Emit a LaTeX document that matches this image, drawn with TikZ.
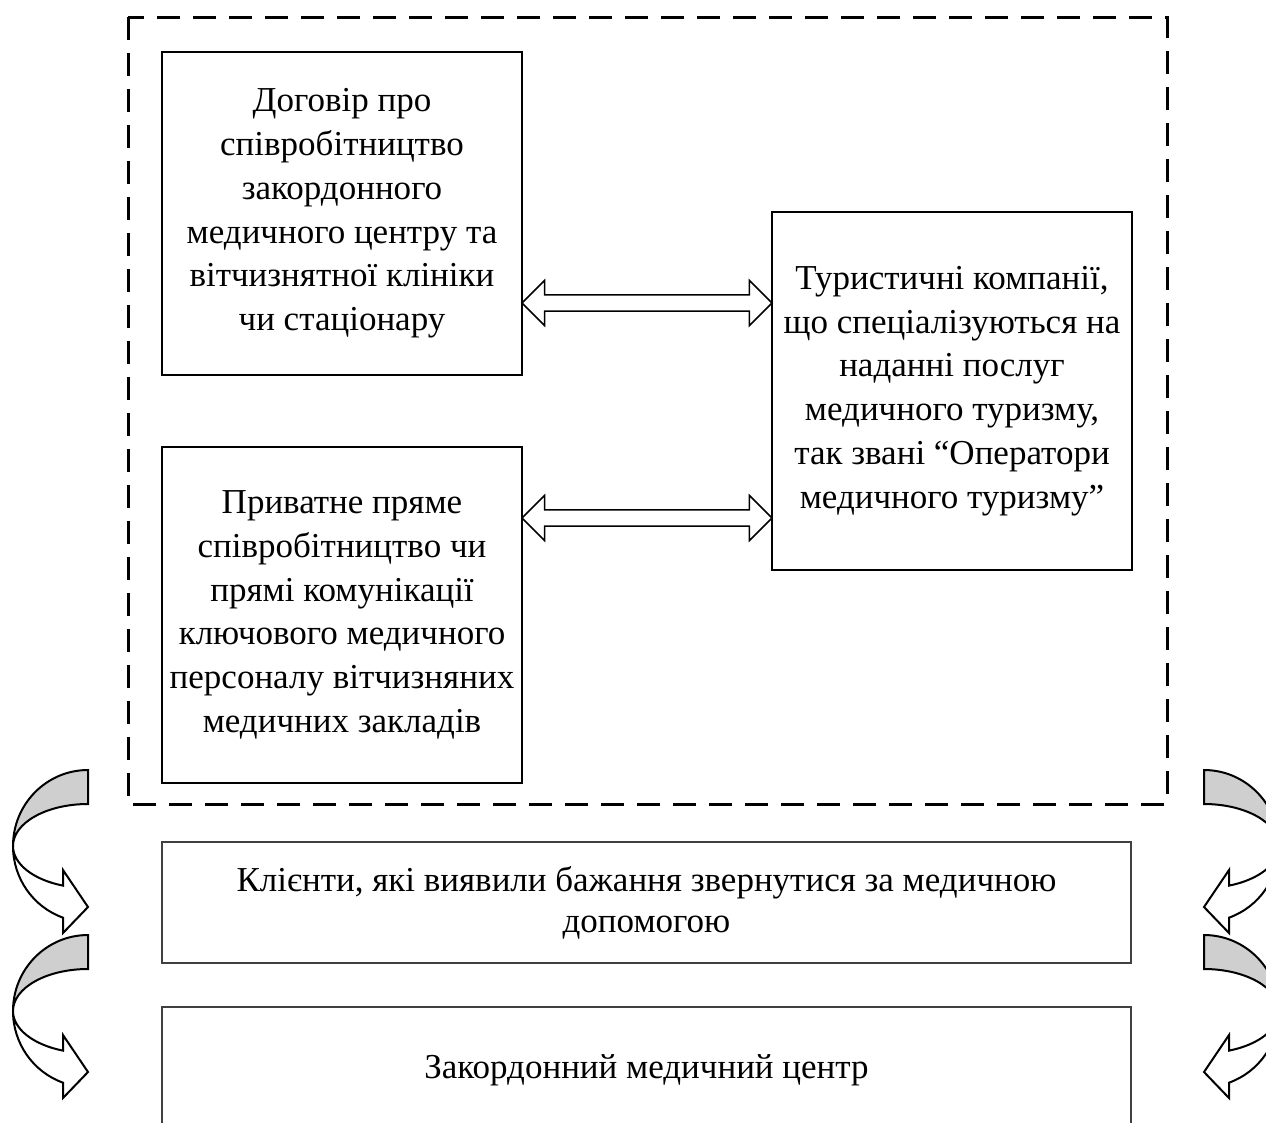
\documentclass[tikz,border=0pt]{standalone}
\usepackage{fontspec}
\setmainfont{Liberation Serif}
\usetikzlibrary{shapes.arrows}

\begin{document}
\begin{tikzpicture}[x=0.4pt, y=-0.4pt,
		every node/.style={font=\fontsize{14}{17.5}\selectfont},
		box/.style={draw=black, line width=1.1pt, align=center, inner sep=0pt, minimum width=144pt},
		widebox/.style={draw=black!75, line width=0.5pt, align=center, inner sep=0pt, minimum width=387.6pt},
		twoway/.style={double arrow, draw=black, line width=0.6pt, fill=white, inner xsep=0pt, inner ysep=2.92pt,
			double arrow head extend=5.8pt, minimum height=100pt},
		band/.style={draw=black, line width=0.8pt}]
			\useasboundingbox (0,0) rectangle (1266,1122);
			\clip (0,0) rectangle (1266,1122);
			% group of the three partners
			\draw[line width=1.2pt, dash pattern=on 9.2pt off 5.2pt] (128,17) rectangle (1167,804);
			\node[box, minimum height=129.2pt] (dogovir) at (342,213.5) {Договір про\\співробітництво\\закордонного\\медичного центру та\\вітчизнятної клініки\\чи стаціонару};
			\node[box, minimum height=134.4pt] (pryvatne) at (342,615) {Приватне пряме\\співробітництво чи\\прямі комунікації\\ключового медичного\\персоналу вітчизняних\\медичних закладів};
			\node[box, minimum height=143.2pt] (operatory) at (952,391) {Туристичні компанії,\\що спеціалізуються на\\наданні послуг\\медичного туризму,\\так звані “Оператори\\медичного туризму”};
			\node[twoway] (arr1) at (647,303) {};
			\node[twoway] (arr2) at (647,518) {};
			% clients and the centre
			\node[widebox, minimum height=48.4pt, font=\fontsize{14}{16.5}\selectfont] (klienty) at (646.5,902.5) {Клієнти, які виявили бажання звернутися за медичною\\допомогою};
			\node[widebox, minimum height=50.4pt] (centr) at (646.5,1070) {Закордонний медичний центр};
			% curved arrows on both sides
			\foreach \side/\sx in {0/1,1292/-1}{
				\foreach \dy in {0,165}{
					\begin{scope}[shift={(\side,\dy)}, xscale=\sx]
						\filldraw[band, fill=black!19] (88,770) arc[start angle=270, end angle=180, x radius=75, y radius=76]
							arc[start angle=180, end angle=270, x radius=75, y radius=42] -- cycle;
						\filldraw[band, fill=white] (13,846) arc[start angle=180, end angle=109.47, x radius=75, y radius=76]
							-- (63,933) -- (88,907) -- (63,870) -- (63,885.6)
							arc[start angle=109.47, end angle=180, x radius=75, y radius=42] -- cycle;
					\end{scope}
				}
			}
		\end{tikzpicture}
\end{document}
